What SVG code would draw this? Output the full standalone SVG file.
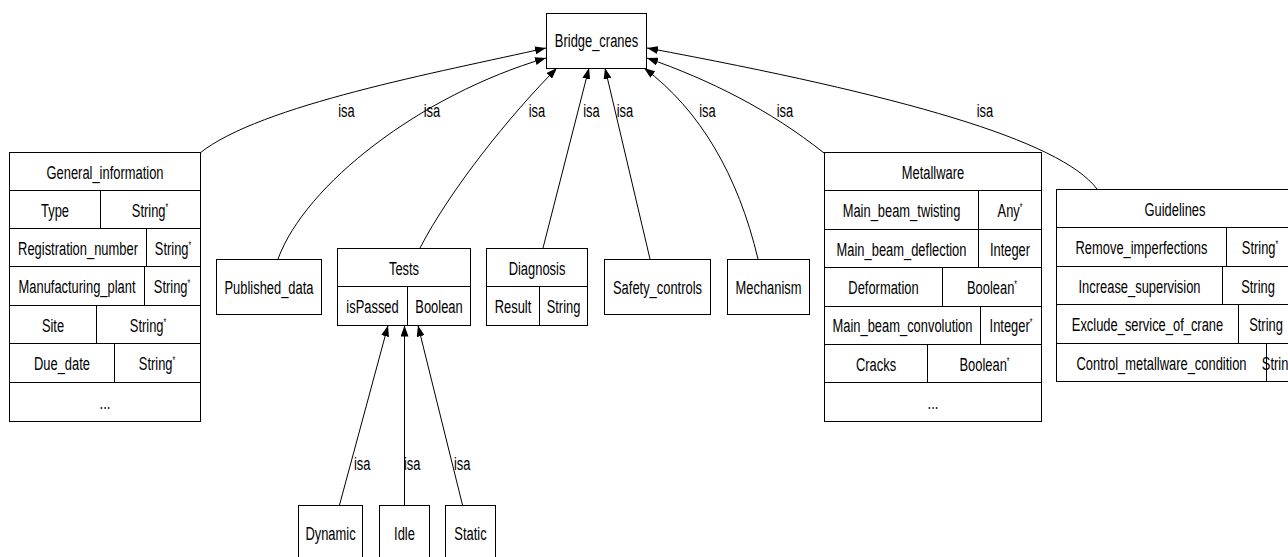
<svg xmlns="http://www.w3.org/2000/svg" width="1288" height="557" viewBox="0 0 1288 557">
<defs>
<marker id="ah" markerUnits="userSpaceOnUse" markerWidth="11" markerHeight="8" refX="11" refY="4" orient="auto">
<path d="M0,0 L11,4 L0,8 z" fill="#000"/>
</marker>
</defs>
<style>
.b{fill:#fff;stroke:#000;stroke-width:1}
.l{fill:none;stroke:#000;stroke-width:1}
.e{fill:none;stroke:#000;stroke-width:1;marker-end:url(#ah)}
text{font-family:"Liberation Sans",Arial,sans-serif;font-size:19px;fill:#000;text-anchor:middle}
.s{font-size:10px}
.isa{text-anchor:start}
</style>
<rect width="1288" height="557" fill="#fff"/>

<g id="connectors">
<path class="e" d="M200,153 C260,105 440,72 546,48"/>
<path class="e" d="M278,259 C305,185 420,95 546,58"/>
<path class="e" d="M420,248 C450,190 510,115 557,68"/>
<path class="e" d="M543,248 L589,68"/>
<path class="e" d="M650,259 L605,68"/>
<path class="e" d="M758,259 C738,175 700,110 644,68"/>
<path class="e" d="M824,153 C770,110 710,80 647,58"/>
<path class="e" d="M1097,189 C1060,140 900,95 647,48"/>
<path class="e" d="M339.5,505 L388,325.5"/>
<path class="e" d="M404.5,505 L404.5,325.5"/>
<path class="e" d="M462.5,505 L418,325.5"/>
<g>
<text transform="translate(346.5,117) scale(.68,1)">isa</text>
<text transform="translate(432,117) scale(.68,1)">isa</text>
<text transform="translate(537,117) scale(.68,1)">isa</text>
<text transform="translate(591.5,117) scale(.68,1)">isa</text>
<text transform="translate(625,117) scale(.68,1)">isa</text>
<text transform="translate(707.5,117) scale(.68,1)">isa</text>
<text transform="translate(785,117) scale(.68,1)">isa</text>
<text transform="translate(985,117) scale(.68,1)">isa</text>
<text class="isa" transform="translate(354,470) scale(.68,1)">isa</text>
<text class="isa" transform="translate(404,470) scale(.68,1)">isa</text>
<text class="isa" transform="translate(454,470) scale(.68,1)">isa</text>
</g>
</g>

<g id="Bridge_cranes">
<rect class="b" x="546.5" y="13.5" width="100" height="55"/>
<text transform="translate(596.5,47) scale(.68,1)">Bridge_cranes</text>
</g>

<g id="General_information">
<rect class="b" x="9.5" y="152.5" width="191" height="269"/>
<path class="l" d="M9.5,190.5H200.5M9.5,228.5H200.5M9.5,266.5H200.5M9.5,305.5H200.5M9.5,343.5H200.5M9.5,382.5H200.5M100.5,190.5V228.5M146.5,228.5V266.5M144.5,266.5V305.5M96.5,305.5V343.5M114.5,343.5V382.5"/>
<text transform="translate(105,179) scale(.68,1)">General_information</text>
<text transform="translate(55,217) scale(.68,1)">Type</text>
<text transform="translate(150,217) scale(.68,1)">String<tspan class="s" dy="-6">*</tspan></text>
<text transform="translate(78,255) scale(.68,1)">Registration_number</text>
<text transform="translate(173,255) scale(.68,1)">String<tspan class="s" dy="-6">*</tspan></text>
<text transform="translate(77,293) scale(.68,1)">Manufacturing_plant</text>
<text transform="translate(172,293) scale(.68,1)">String<tspan class="s" dy="-6">*</tspan></text>
<text transform="translate(53,332) scale(.68,1)">Site</text>
<text transform="translate(148,332) scale(.68,1)">String<tspan class="s" dy="-6">*</tspan></text>
<text transform="translate(62,370) scale(.68,1)">Due_date</text>
<text transform="translate(157,370) scale(.68,1)">String<tspan class="s" dy="-6">*</tspan></text>
<text transform="translate(105,409) scale(.68,1)">...</text>
</g>

<g id="Published_data">
<rect class="b" x="216.5" y="259.5" width="105" height="55"/>
<text transform="translate(269,294) scale(.68,1)">Published_data</text>
</g>

<g id="Tests">
<rect class="b" x="337.5" y="248.5" width="133" height="77"/>
<path class="l" d="M337.5,286.5H470.5M407.5,286.5V325.5"/>
<text transform="translate(404,275) scale(.68,1)">Tests</text>
<text transform="translate(372.5,313) scale(.68,1)">isPassed</text>
<text transform="translate(439,313) scale(.68,1)">Boolean</text>
</g>

<g id="Diagnosis">
<rect class="b" x="486.5" y="248.5" width="101" height="77"/>
<path class="l" d="M486.5,286.5H587.5M539.5,286.5V325.5"/>
<text transform="translate(537,275) scale(.68,1)">Diagnosis</text>
<text transform="translate(513,313) scale(.68,1)">Result</text>
<text transform="translate(563.5,313) scale(.68,1)">String</text>
</g>

<g id="Safety_controls">
<rect class="b" x="604.5" y="259.5" width="106" height="55"/>
<text transform="translate(657.5,294) scale(.68,1)">Safety_controls</text>
</g>

<g id="Mechanism">
<rect class="b" x="727.5" y="259.5" width="82" height="55"/>
<text transform="translate(768.5,294) scale(.68,1)">Mechanism</text>
</g>

<g id="Metallware">
<rect class="b" x="824.5" y="152.5" width="217" height="269"/>
<path class="l" d="M824.5,190.5H1041.5M824.5,229.5H1041.5M824.5,267.5H1041.5M824.5,306.5H1041.5M824.5,344.5H1041.5M824.5,382.5H1041.5M978.5,190.5V267.5M942.5,267.5V306.5M980.5,306.5V344.5M927.5,344.5V382.5"/>
<text transform="translate(933,179) scale(.68,1)">Metallware</text>
<text transform="translate(901.5,217) scale(.68,1)">Main_beam_twisting</text>
<text transform="translate(1010,217) scale(.68,1)">Any<tspan class="s" dy="-6">*</tspan></text>
<text transform="translate(901.5,255.5) scale(.68,1)">Main_beam_deflection</text>
<text transform="translate(1010,255.5) scale(.68,1)">Integer</text>
<text transform="translate(883.5,294) scale(.68,1)">Deformation</text>
<text transform="translate(992,294) scale(.68,1)">Boolean<tspan class="s" dy="-6">*</tspan></text>
<text transform="translate(902.5,332) scale(.68,1)">Main_beam_convolution</text>
<text transform="translate(1011,332) scale(.68,1)">Integer<tspan class="s" dy="-6">*</tspan></text>
<text transform="translate(876,370.5) scale(.68,1)">Cracks</text>
<text transform="translate(984.5,370.5) scale(.68,1)">Boolean<tspan class="s" dy="-6">*</tspan></text>
<text transform="translate(933,409) scale(.68,1)">...</text>
</g>

<g id="Guidelines">
<rect class="b" x="1056.5" y="189.5" width="238" height="192"/>
<path class="l" d="M1056.5,227.5H1294.5M1056.5,266.5H1294.5M1056.5,304.5H1294.5M1056.5,343.5H1294.5M1226.5,227.5V266.5M1222.5,266.5V304.5M1238.5,304.5V343.5M1266.5,343.5V381.5"/>
<text transform="translate(1175,215.5) scale(.68,1)">Guidelines</text>
<text transform="translate(1141.5,254) scale(.68,1)">Remove_imperfections</text>
<text transform="translate(1260,254) scale(.68,1)">String<tspan class="s" dy="-6">*</tspan></text>
<text transform="translate(1139.5,292.5) scale(.68,1)">Increase_supervision</text>
<text transform="translate(1258,292.5) scale(.68,1)">String</text>
<text transform="translate(1147.5,331) scale(.68,1)">Exclude_service_of_crane</text>
<text transform="translate(1266,331) scale(.68,1)">String</text>
<text transform="translate(1161.5,370) scale(.68,1)">Control_metallware_condition</text>
<text transform="translate(1280,370) scale(.68,1)">String<tspan class="s" dy="-6">*</tspan></text>
</g>

<g id="Dynamic">
<rect class="b" x="298.5" y="505.5" width="64" height="60"/>
<text transform="translate(330.5,540) scale(.68,1)">Dynamic</text>
</g>
<g id="Idle">
<rect class="b" x="379.5" y="505.5" width="50" height="60"/>
<text transform="translate(404.5,540) scale(.68,1)">Idle</text>
</g>
<g id="Static">
<rect class="b" x="445.5" y="505.5" width="50" height="60"/>
<text transform="translate(470.5,540) scale(.68,1)">Static</text>
</g>
</svg>
